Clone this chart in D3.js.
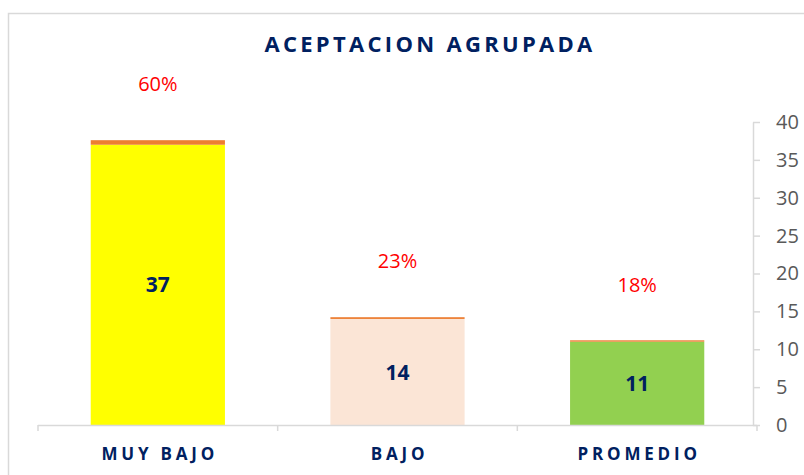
<!DOCTYPE html>
<html>
<head>
<meta charset="utf-8">
<script src="https://cdn.jsdelivr.net/npm/d3@7"></script>
<style>
  body { margin: 0; background: #fff; }
  text { font-family: "Open Sans", sans-serif; }
</style>
</head>
<body>
<svg id="chart" width="804" height="475"></svg>
<script>
const categories = ["MUY BAJO", "BAJO", "PROMEDIO"];
const counts     = [37, 14, 11];
const shares     = [0.60, 0.23, 0.18];
const barColors  = ["#FFFF00", "#FBE5D6", "#92D050"];
const yTicks     = [0, 5, 10, 15, 20, 25, 30, 35, 40];

const svg = d3.select("#chart");

// chart area border (cropped on right and bottom)
svg.append("path")
  .attr("d", "M8.5,475V13.5H804")
  .attr("fill", "none")
  .attr("stroke", "#d9d9d9")
  .attr("stroke-width", 1.5);

const x = d3.scaleBand()
  .domain(categories)
  .range([38, 757])
  .paddingInner(0.44)
  .paddingOuter(0.22);

const y = d3.scaleLinear()
  .domain([0, 40])
  .range([425, 122]);

const data = categories.map((c, i) => ({cat: c, n: counts[i], p: shares[i], color: barColors[i]}));

// bars
svg.selectAll(".bar")
  .data(data)
  .enter().append("rect")
    .attr("class", "bar")
    .attr("x", d => x(d.cat))
    .attr("y", d => y(d.n))
    .attr("width", x.bandwidth())
    .attr("height", d => y(0) - y(d.n))
    .attr("fill", d => d.color);

// stacked percentage segment
svg.selectAll(".pct")
  .data(data)
  .enter().append("rect")
    .attr("class", "pct")
    .attr("x", d => x(d.cat))
    .attr("y", d => y(d.n + d.p))
    .attr("width", x.bandwidth())
    .attr("height", d => y(d.n) - y(d.n + d.p))
    .attr("fill", "#ED7D31");

// x axis
const x0 = x.range()[0], x1 = x.range()[1];
svg.append("line")
  .attr("x1", x0).attr("x2", x1)
  .attr("y1", y(0) + 0.5).attr("y2", y(0) + 0.5)
  .attr("stroke", "#d9d9d9")
  .attr("stroke-width", 1.5);

svg.selectAll(".xtick")
  .data(d3.range(categories.length + 1))
  .enter().append("line")
    .attr("class", "xtick")
    .attr("x1", i => x0 + i * x.step())
    .attr("x2", i => x0 + i * x.step())
    .attr("y1", y(0))
    .attr("y2", y(0) + 6)
    .attr("stroke", "#d9d9d9")
    .attr("stroke-width", 1.5);

svg.selectAll(".xlabel")
  .data(categories)
  .enter().append("text")
    .attr("class", "xlabel")
    .attr("x", d => x(d) + x.bandwidth() / 2 + 2)
    .attr("y", 460)
    .attr("text-anchor", "middle")
    .style("font-size", "17px")
    .style("font-weight", "bold")
    .style("letter-spacing", "3.8px")
    .attr("fill", "#002060")
    .text(d => d);

// right y axis
const yAxis = svg.append("g")
  .attr("transform", "translate(753,0)")
  .call(d3.axisRight(y).tickValues(yTicks).tickSize(7).tickSizeOuter(0).tickPadding(16));

yAxis.select(".domain").attr("stroke", "#d9d9d9").attr("stroke-width", 1.5);
yAxis.selectAll(".tick line").attr("stroke", "#d9d9d9").attr("stroke-width", 1.5);
yAxis.selectAll(".tick text")
  .attr("fill", "#595959")
  .style("font-size", "20px")
  .style("font-family", "'Open Sans', sans-serif");

// value labels inside bars
svg.selectAll(".val")
  .data(data)
  .enter().append("text")
    .attr("class", "val")
    .attr("x", d => x(d.cat) + x.bandwidth() / 2)
    .attr("y", d => (y(d.n) + y(0)) / 2)
    .attr("dy", "0.36em")
    .attr("text-anchor", "middle")
    .style("font-size", "21px")
    .style("font-weight", "bold")
    .attr("fill", "#002060")
    .text(d => d.n);

// percentage labels above bars
svg.selectAll(".pctlabel")
  .data(data)
  .enter().append("text")
    .attr("class", "pctlabel")
    .attr("x", d => x(d.cat) + x.bandwidth() / 2)
    .attr("y", d => y(d.n + d.p) - 56)
    .attr("dy", "0.36em")
    .attr("text-anchor", "middle")
    .style("font-size", "20px")
    .attr("fill", "#FF0000")
    .text(d => Math.round(d.p * 100) + "%");

// title
svg.append("text")
  .attr("x", 430)
  .attr("y", 52)
  .attr("text-anchor", "middle")
  .style("font-size", "22px")
  .style("font-weight", "bold")
  .style("letter-spacing", "3.3px")
  .attr("fill", "#002060")
  .text("ACEPTACION AGRUPADA");
</script>
</body>
</html>
